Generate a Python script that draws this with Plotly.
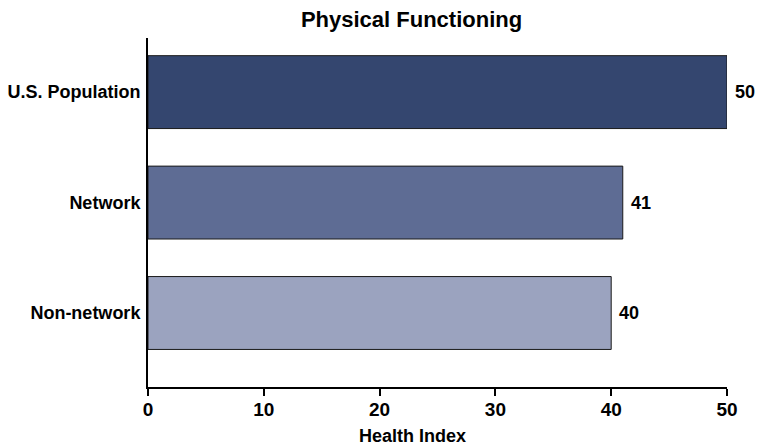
import plotly.graph_objects as go

categories = ["Non-network", "Network", "U.S. Population"]
values = [40, 41, 50]
colors = ["#9BA3BF", "#5E6C94", "#34466F"]
x_ticks = [0, 10, 20, 30, 40, 50]

FONT = "Liberation Sans, Arial, sans-serif"

fig = go.Figure()
fig.add_trace(go.Bar(
    y=categories, x=values, orientation="h",
    marker=dict(color=colors, line=dict(color="#1a1a1a", width=1)),
    width=0.66, hoverinfo="skip",
))

for c, v in zip(categories, values):
    fig.add_annotation(
        x=v, y=c, xref="x", yref="y", text=f"<b>{v}</b>",
        showarrow=False, xanchor="left", xshift=6,
        font=dict(family=FONT, size=18, color="black"),
    )

# x-axis title
fig.add_annotation(
    x=0.456, y=0, xref="paper", yref="paper", text="<b>Health Index</b>",
    showarrow=False, xanchor="center", yanchor="middle", yshift=-49,
    font=dict(family=FONT, size=18, color="black"),
)

fig.update_layout(
    width=759, height=448,
    margin=dict(l=148, r=32, t=38, b=61),
    paper_bgcolor="white", plot_bgcolor="white",
    showlegend=False,
    title=dict(text="<b>Physical Functioning</b>", x=411.5 / 759, xref="container", xanchor="center",
               y=1 - 19 / 448, yref="container", yanchor="middle",
               font=dict(family=FONT, size=22, color="black")),
    font=dict(family=FONT, color="black"),
)
fig.update_xaxes(
    range=[0, 50], tickvals=x_ticks, ticktext=[f"<b>{t}</b>" for t in x_ticks],
    showline=True, linecolor="black", linewidth=2,
    ticks="outside", ticklen=7, tickwidth=2, tickcolor="black",
    showgrid=False, zeroline=False, automargin=False,
    tickfont=dict(family=FONT, size=19, color="black"),
    ticklabelstandoff=-3,
)
fig.update_yaxes(
    range=[-0.67, 2.49],
    tickvals=categories, ticktext=[f"<b>{c}</b>" for c in categories],
    showline=True, linecolor="black", linewidth=2,
    ticks="", showgrid=False, zeroline=False, automargin=False,
    tickfont=dict(family=FONT, size=18, color="black"),
    ticklabelstandoff=2,
)

fig.write_html(
    "out.html",
    config={"displayModeBar": False},
    post_script="document.body.style.margin='0';document.body.style.overflow='hidden';",
)
